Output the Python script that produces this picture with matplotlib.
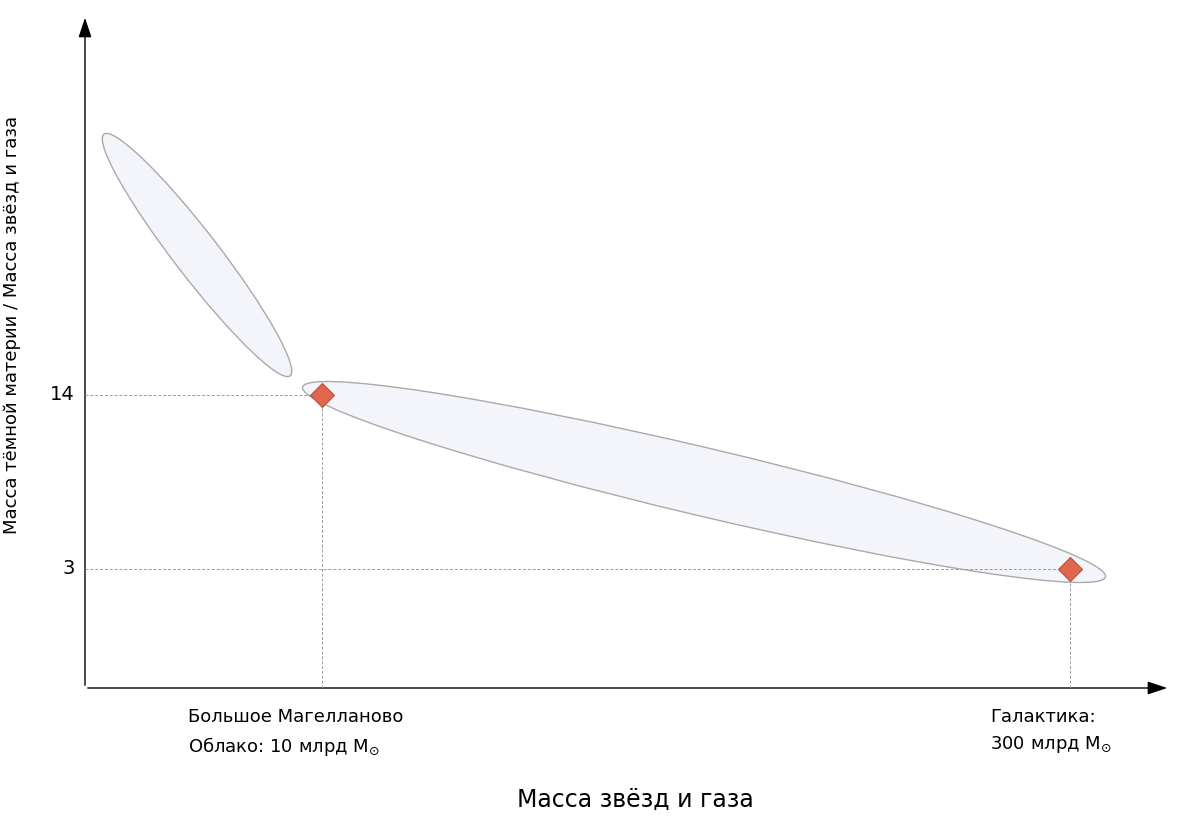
import matplotlib
matplotlib.use("Agg")
import matplotlib.pyplot as plt
from matplotlib.patches import Ellipse, FancyArrowPatch

x_vals = [10, 300]
y_vals = [14, 3]
y_ticks = [14, 3]
x_labels = ["Большое Магелланово\nОблако: 10 млрд $\\mathregular{M}_{\\odot}$",
            "Галактика:\n300 млрд $\\mathregular{M}_{\\odot}$"]

W, H = 1185, 823
fig = plt.figure(figsize=(W/100, H/100), dpi=100)
# overlay in pixel coords for decorations
ov = fig.add_axes([0, 0, 1, 1])
ov.set_xlim(0, W); ov.set_ylim(H, 0); ov.axis("off")

x0, x1, y0, y1 = 85, 1170, 688, 15
ax = fig.add_axes([x0/W, 1-y0/H, (x1-x0)/W, (y0-y1)/H])
ax.set_facecolor("none")
ax.set_xlim(-81.9, 338.8)
ax.set_ylim(-4.52, 38)
for s in ax.spines.values():
    s.set_visible(False)
ax.set_xticks([]); ax.set_yticks([])

# ellipses
ov.add_patch(Ellipse((197, 255), 45, 305, angle=-37.6, facecolor="#f4f4fb", edgecolor="#aaaaaa", lw=1))
ov.add_patch(Ellipse((704, 482), 825, 68, angle=13.3, facecolor="#f4f4fb", edgecolor="#aaaaaa", lw=1))

# axes with arrows
ov.add_patch(FancyArrowPatch((x0, y0), (x1, y0), arrowstyle="-|>,head_length=12,head_width=4", color="black", lw=1, mutation_scale=1))
ov.add_patch(FancyArrowPatch((x0, y0), (x0, y1), arrowstyle="-|>,head_length=12,head_width=4", color="black", lw=1, mutation_scale=1))

for xv, yv in zip(x_vals, y_vals):
    ax.plot([ax.get_xlim()[0], xv], [yv, yv], ls=(0, (3, 2)), color="#999999", lw=0.7)
    ax.plot([xv, xv], [ax.get_ylim()[0], yv], ls=(0, (3, 2)), color="#999999", lw=0.7)
ax.plot(x_vals, y_vals, "D", ms=12, color="#e0664e", mec="#c0503a", mew=0.8, ls="none")

for t in y_ticks:
    ax.text(-86, t, str(t), ha="right", va="center", fontsize=14)
ax.text(x_vals[0]-52, -5.8, x_labels[0], ha="left", va="top", fontsize=13, linespacing=1.5)
ax.text(x_vals[1]-31, -5.8, x_labels[1], ha="left", va="top", fontsize=13, linespacing=1.5)

ov.text(635, 800, "Масса звёзд и газа", ha="center", va="center", fontsize=17)
ov.text(12, 325, "Масса тёмной материи / Масса звёзд и газа", ha="center", va="center",
        rotation=90, fontsize=13)

fig.savefig("out.png", dpi=100)
